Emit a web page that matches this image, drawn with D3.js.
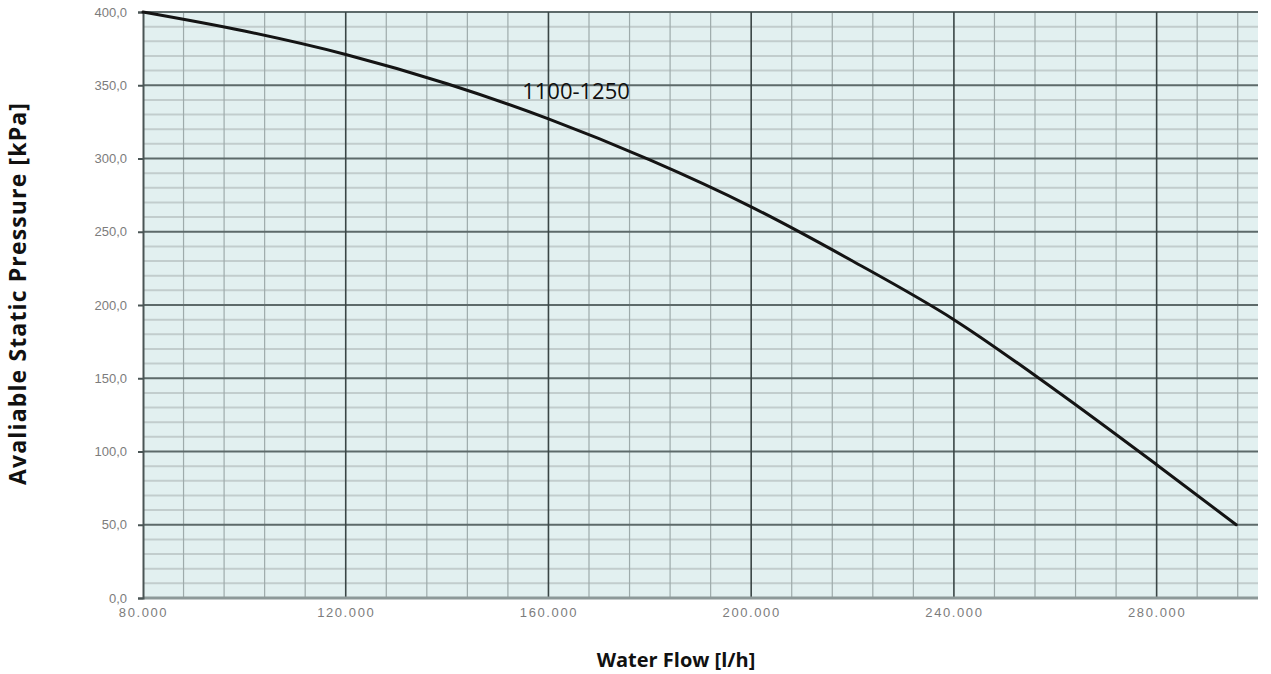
<!DOCTYPE html>
<html>
<head>
<meta charset="utf-8">
<script src="https://cdn.jsdelivr.net/npm/d3@7/dist/d3.min.js"></script>
<style>
html,body{margin:0;padding:0;background:#fff;}
svg{display:block;}
</style>
</head>
<body>
<svg id="chart" width="1271" height="674"></svg>
<script>
// Data
const flow = [80000, 100000, 120000, 140000, 160000, 180000, 200000, 220000, 240000, 260000, 280000, 295700];
const pressure = [400, 387, 371, 351, 327, 299, 267, 230, 190, 142, 91, 50];
const seriesLabel = "1100-1250";
const xTicks = [80000, 120000, 160000, 200000, 240000, 280000];
const yTicks = [0, 50, 100, 150, 200, 250, 300, 350, 400];
const xTitle = "Water Flow [l/h]";
const yTitle = "Avaliable Static Pressure [kPa]";

(function () {
const svg = d3.select("#chart");
const pL = 143, pR = 1258, pT = 12, pB = 598;

const x = d3.scaleLinear().domain([80000, 300000]).range([pL, pR]);
const y = d3.scaleLinear().domain([0, 400]).range([pB, pT]);

// background
svg.append("rect").attr("x", pL).attr("y", pT)
  .attr("width", pR - pL).attr("height", pB - pT)
  .attr("fill", "#e2f0f0");

// minor grid
const xMinor = d3.range(80000, 300001, 8000).filter(v => v % 40000 !== 0);
const yMinor = d3.range(0, 401, 10).filter(v => v % 50 !== 0);

svg.append("g").selectAll("line").data(yMinor).join("line")
  .attr("x1", pL).attr("x2", pR)
  .attr("y1", d => y(d)).attr("y2", d => y(d))
  .attr("stroke", "#c2cdcd").attr("stroke-width", 2);

svg.append("g").selectAll("line").data(xMinor).join("line")
  .attr("x1", d => x(d)).attr("x2", d => x(d))
  .attr("y1", pT).attr("y2", pB)
  .attr("stroke", "#9eabab").attr("stroke-width", 1.2);

// major grid
svg.append("g").selectAll("line").data(yTicks.filter(v => v > 0)).join("line")
  .attr("x1", pL).attr("x2", pR)
  .attr("y1", d => y(d)).attr("y2", d => y(d))
  .attr("stroke", "#5d6a6a").attr("stroke-width", 2);

svg.append("g").selectAll("line").data(xTicks.filter(v => v > 80000)).join("line")
  .attr("x1", d => x(d)).attr("x2", d => x(d))
  .attr("y1", pT).attr("y2", pB)
  .attr("stroke", "#3a4646").attr("stroke-width", 1.6);

// bottom band
svg.append("line").attr("x1", pL).attr("x2", pR)
  .attr("y1", y(0)).attr("y2", y(0))
  .attr("stroke", "#8d9999").attr("stroke-width", 3);

// axes
const fmtX = d => d3.format(",")(d).replace(/,/g, ".");
const fmtY = d => d3.format(".1f")(d).replace(".", ",");

const yAxis = svg.append("g").attr("transform", `translate(${pL},0)`)
  .call(d3.axisLeft(y).tickValues(yTicks).tickSize(5).tickPadding(11).tickFormat(fmtY));
yAxis.select(".domain").attr("stroke", "#4a5555").attr("stroke-width", 2);
yAxis.selectAll(".tick line").attr("stroke", "#4a5555").attr("stroke-width", 2);
yAxis.selectAll(".tick text").attr("fill", "#7c7c7c")
  .style("font-family", "'Liberation Sans', Arial, sans-serif").style("font-size", "13px");

const xAxis = svg.append("g").attr("transform", `translate(0,${pB})`)
  .call(d3.axisBottom(x).tickValues(xTicks).tickSize(0).tickPadding(10).tickFormat(fmtX));
xAxis.select(".domain").remove();
xAxis.selectAll(".tick text").attr("fill", "#7c7c7c")
  .style("font-family", "'Liberation Sans', Arial, sans-serif").style("font-size", "13px")
  .style("letter-spacing", "1.6px");

// curve
const pts = flow.map((f, i) => [f, pressure[i]]);
const line = d3.line().x(d => x(d[0])).y(d => y(d[1])).curve(d3.curveMonotoneX);
svg.append("path").datum(pts).attr("d", line)
  .attr("fill", "none").attr("stroke", "#141414").attr("stroke-width", 3)
  .attr("stroke-linejoin", "round").attr("stroke-linecap", "round");

// series label
svg.append("text").attr("x", 576).attr("y", 99)
  .attr("text-anchor", "middle")
  .style("font-family", "'Open Sans', sans-serif").style("font-size", "22px")
  .attr("fill", "#111").text(seriesLabel);

// titles
svg.append("text").attr("x", 676).attr("y", 667)
  .attr("text-anchor", "middle")
  .style("font-family", "'Open Sans', sans-serif").style("font-size", "20px").style("font-weight", "bold")
  .attr("fill", "#111").text(xTitle);

svg.append("text")
  .attr("transform", "translate(26,294) rotate(-90)")
  .attr("text-anchor", "middle")
  .attr("textLength", 382).attr("lengthAdjust", "spacing")
  .style("font-family", "'Open Sans', sans-serif").style("font-size", "23px").style("font-weight", "bold")
  .attr("fill", "#111").text(yTitle);
})();
</script>
</body>
</html>
